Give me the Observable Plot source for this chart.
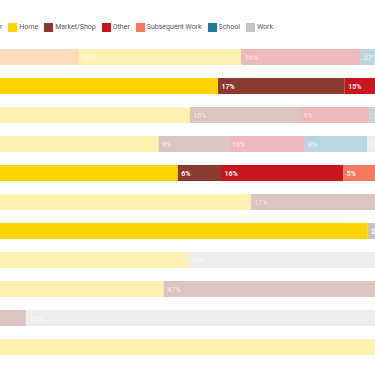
<!DOCTYPE html>
<html><head><meta charset="utf-8">
<script src="https://cdn.jsdelivr.net/npm/d3@7"></script>
<script src="https://cdn.jsdelivr.net/npm/@observablehq/plot@0.6"></script>
<style>
html,body{margin:0;padding:0;background:#fff;overflow:hidden;width:375px;height:366px}
#legend{position:relative;height:40px;width:375px;overflow:hidden;font:7px Roboto, sans-serif;color:#555}
#legend .lrow{position:absolute;top:22.5px;display:flex;white-space:nowrap;align-items:center;height:9px}
#legend .item{display:flex;align-items:center;margin-right:6px}
#legend .sw{width:9px;height:9px;margin-right:2px;flex:none}
#chart svg{display:block}
</style></head>
<body><div id="legend"></div><div id="chart"></div>
<script>
// Categories and colours (legend order = stack order)
const categories = ["Transfer", "Home", "Market/Shop", "Other", "Subsequent Work", "School", "Work"];
const colors = ["#f28e1e", "#ffd200", "#8b3a2f", "#c8161e", "#f47a61", "#1b7b9b", "#c4c4c4"];

// Rows (top to bottom) and which ones are highlighted
const rows = ["Row 1", "Row 2", "Row 3", "Row 4", "Row 5", "Row 6", "Row 7", "Row 8", "Row 9", "Row 10", "Row 11"];
const highlighted = ["Row 2", "Row 5", "Row 7"];

// Shares (%) per category, aligned with rows
const transfer       = [35.4, 0,    0,    0,    0,    0,    0,    0,    0,    0,    0];
const home           = [21.8, 54.1, 50.3, 46.1, 48.7, 58.5, 74.2, 50.1, 46.8, 10,   84];
const marketShop     = [0,    17,   14.8, 9.4,  5.8,  17,   0,    0,    47,   18.3, 16];
const other          = [16,   15,   9.3,  10.2, 16.4, 0,    0,    0,    0,    0,    0];
const subsequentWork = [0,    0,    0,    0,    5,    0,    0,    0,    0,    0,    0];
const school         = [26.8, 0,    25.6, 8.4,  0,    0,    0,    0,    0,    0,    0];
const work           = [0,    13.9, 0,    25.9, 24.1, 24.5, 25.8, 49.9, 6.2,  71.2, 0];

const series = [transfer, home, marketShop, other, subsequentWork, school, work];
const data = [];
rows.forEach((row, i) => {
  categories.forEach((cat, j) => {
    const v = series[j][i];
    if (v > 0) data.push({row, category: cat, value: v, hl: highlighted.includes(row)});
  });
});

// Legend (HTML, cropped on the left like the reference)
const legend = document.getElementById("legend");
const lrow = document.createElement("div");
lrow.className = "lrow";
categories.forEach((cat, j) => {
  const item = document.createElement("span");
  item.className = "item";
  const sw = document.createElement("span");
  sw.className = "sw";
  sw.style.background = colors[j];
  const t = document.createElement("span");
  t.textContent = cat;
  item.appendChild(sw); item.appendChild(t);
  lrow.appendChild(item);
});
legend.appendChild(lrow);
const firstW = lrow.firstChild.getBoundingClientRect().width;
lrow.style.left = (8.3 - firstW - 6) + "px";

const chart = Plot.plot({
  width: 375,
  height: 326,
  marginTop: 0, marginBottom: 0, marginLeft: 0, marginRight: 0,
  x: {domain: [0, 100], range: [-185, 560], axis: null},
  y: {domain: rows, range: [8, 316], paddingInner: 0.452, paddingOuter: 0, axis: null},
  color: {domain: categories, range: colors},
  style: {fontFamily: "Roboto, sans-serif", background: "white", overflow: "hidden"},
  marks: [
    Plot.barX(data, Plot.stackX({
      x: "value", y: "row", fill: "category", order: categories,
      fillOpacity: d => d.hl ? 1 : 0.3, clip: true
    })),
    Plot.text(data, Plot.stackX1({
      x: "value", y: "row", z: "category", order: categories,
      text: d => Math.round(d.value) + "%",
      fill: "white", fillOpacity: d => d.hl ? 1 : 0.55,
      textAnchor: "start", dx: 3, fontSize: 7, fontWeight: 600, clip: true
    }))
  ]
});
document.getElementById("chart").appendChild(chart);
</script>
</body></html>
